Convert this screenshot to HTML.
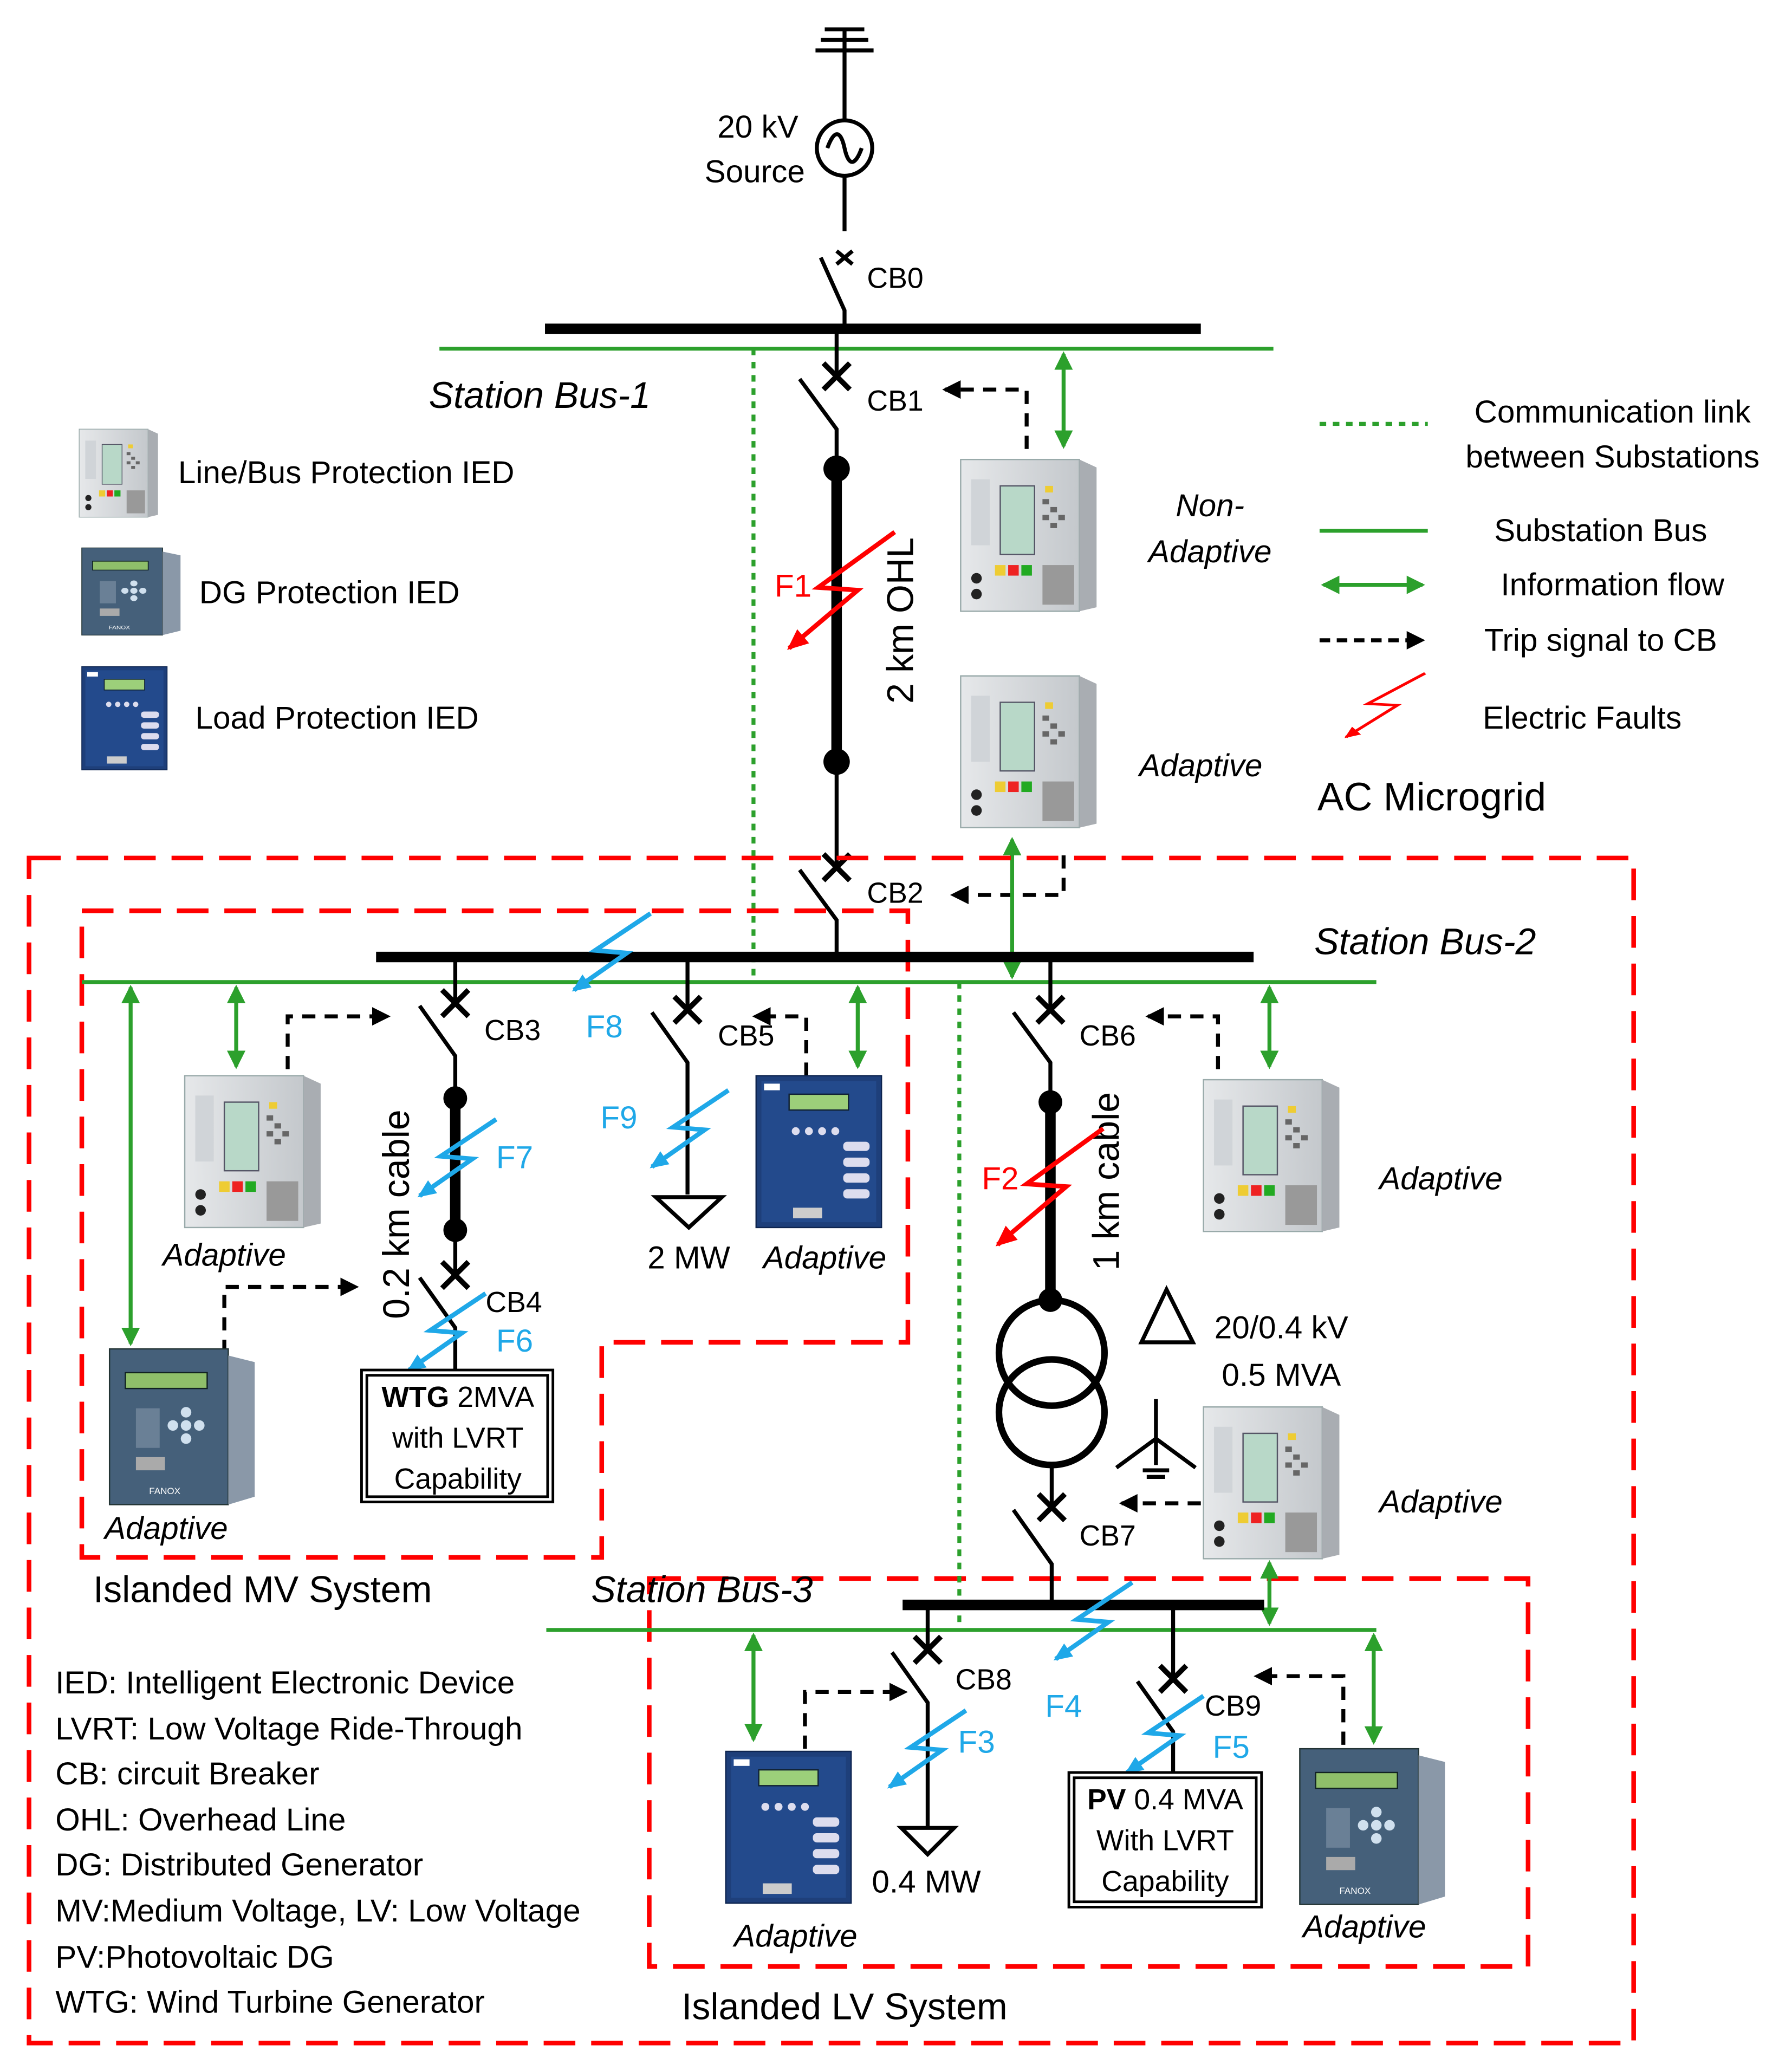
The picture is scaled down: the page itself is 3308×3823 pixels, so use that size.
<!DOCTYPE html>
<html><head><meta charset="utf-8"><style>
html,body{margin:0;padding:0;background:#fff}
svg{display:block}
text{font-family:"Liberation Sans",sans-serif;fill:#000}
</style></head><body>
<svg width="3308" height="3823" viewBox="0 0 1358 1569" xmlns="http://www.w3.org/2000/svg">
<defs>
<marker id="ag" markerWidth="14" markerHeight="14" refX="12" refY="7" orient="auto-start-reverse" markerUnits="userSpaceOnUse"><path d="M0,0 L14,7 L0,14 z" fill="#2ca02c"/></marker>
<marker id="ak" markerWidth="14" markerHeight="14" refX="12" refY="7" orient="auto" markerUnits="userSpaceOnUse"><path d="M0,0 L14,7 L0,14 z" fill="#000"/></marker>
<marker id="ar" markerWidth="18" markerHeight="18" refX="14" refY="9" orient="auto" markerUnits="userSpaceOnUse"><path d="M0,2 L16,9 L0,16 z" fill="#f00"/></marker>
<marker id="au" markerWidth="16" markerHeight="16" refX="12" refY="8" orient="auto" markerUnits="userSpaceOnUse"><path d="M0,2 L14,8 L0,14 z" fill="#1fa8e8"/></marker>
<linearGradient id="gs" x1="0" x2="1"><stop offset="0" stop-color="#e6e8ea"/><stop offset="1" stop-color="#c4c8cc"/></linearGradient>
<g id="sie">
<rect x="0" y="0" width="90" height="115" fill="url(#gs)" stroke="#9aa" stroke-width="1"/>
<path d="M90,0 L103,6 L103,112 L90,115z" fill="#a9adb2"/>
<rect x="30" y="20" width="26" height="52" fill="#b8d8c8" stroke="#556"/>
<rect x="8" y="15" width="14" height="50" fill="#d0d4d8"/>
<g fill="#666"><rect x="62" y="30" width="5" height="4"/><rect x="68" y="36" width="5" height="4"/><rect x="62" y="42" width="5" height="4"/><rect x="74" y="42" width="5" height="4"/><rect x="68" y="48" width="5" height="4"/></g>
<rect x="64" y="20" width="6" height="5" fill="#ec3"/>
<circle cx="12" cy="90" r="4" fill="#222"/><circle cx="12" cy="102" r="4" fill="#222"/>
<rect x="36" y="80" width="8" height="8" fill="#e22"/><rect x="46" y="80" width="8" height="8" fill="#2a2"/>
<rect x="26" y="80" width="8" height="8" fill="#ec3"/>
<g fill="#999"><rect x="62" y="80" width="24" height="30"/></g>
</g>
<g id="sel">
<rect x="0" y="0" width="95" height="115" fill="#1e3f7a" stroke="#0e2550"/>
<rect x="4" y="4" width="87" height="107" fill="#234a8c"/>
<rect x="25" y="14" width="45" height="12" fill="#9ccf7a" stroke="#123"/>
<rect x="6" y="6" width="12" height="5" fill="#fff"/>
<g fill="#dde"><rect x="66" y="50" width="20" height="7" rx="3"/><rect x="66" y="62" width="20" height="7" rx="3"/><rect x="66" y="74" width="20" height="7" rx="3"/><rect x="66" y="86" width="20" height="7" rx="3"/>
<circle cx="30" cy="42" r="3"/><circle cx="40" cy="42" r="3"/><circle cx="50" cy="42" r="3"/><circle cx="60" cy="42" r="3"/></g>
<rect x="28" y="100" width="22" height="8" fill="#ccc"/>
</g>
<g id="fan">
<rect x="0" y="0" width="90" height="118" fill="#45607a" stroke="#233"/>
<path d="M90,5 L110,10 L110,112 L90,118z" fill="#8a98a8"/>
<rect x="12" y="18" width="62" height="12" fill="#8fbf6a" stroke="#122"/>
<rect x="20" y="45" width="18" height="30" fill="#6a8096"/>
<g fill="#d0e0ee"><circle cx="58" cy="58" r="4"/><circle cx="48" cy="58" r="4"/><circle cx="68" cy="58" r="4"/><circle cx="58" cy="48" r="4"/><circle cx="58" cy="68" r="4"/></g>
<rect x="20" y="82" width="22" height="10" fill="#aaa"/>
<text x="30" y="110" font-size="7" style="fill:#fff">FANOX</text>
</g>
<g id="fr"><path d="M0,0 L-58,42 L-28,44 L-80,88" fill="none" stroke="#f00" stroke-width="3.5" marker-end="url(#ar)"/></g>
<g id="fb"><path d="M0,0 L-42,28 L-18,30 L-58,58" fill="none" stroke="#1fa8e8" stroke-width="3.5" marker-end="url(#au)"/></g>
<g id="xx"><path d="M-10,-10 L10,10 M10,-10 L-10,10" stroke="#000" stroke-width="4"/></g>
</defs>

<g stroke="#000" stroke-width="3" fill="none">
<path d="M625,22 L655,22 M622,30 L658,30 M618,38 L662,38"/>
<path d="M640,22 L640,90 M640,134 L640,175"/>
<circle cx="640" cy="112" r="21"/>
<path d="M627,112 C632,98 637,98 640,112 C643,126 648,126 653,112"/>
<path d="M622,195 L640,235 L640,249"/>
</g>
<path d="M634,190 L646,200 M646,190 L634,200" stroke="#000" stroke-width="3"/>
<text x="605" y="104" font-size="24" text-anchor="end">20 kV</text>
<text x="610" y="138" font-size="24" text-anchor="end">Source</text>
<text x="657" y="218" font-size="22">CB0</text>

<line x1="413" y1="249" x2="910" y2="249" stroke="#000" stroke-width="8"/>
<line x1="333" y1="264" x2="965" y2="264" stroke="#2ca02c" stroke-width="3"/>
<line x1="571" y1="264" x2="571" y2="740" stroke="#2ca02c" stroke-width="3" stroke-dasharray="5,5"/>
<text x="325" y="309" font-size="28" font-style="italic">Station Bus-1</text>

<g stroke="#000" stroke-width="3" fill="none"><path d="M634,249 L634,285 M606,287 L634,325 L634,355"/>
<path d="M634,577 L634,657 M606,659 L634,697 L634,725"/></g>
<use href="#xx" x="634" y="285"/>
<use href="#xx" x="634" y="657"/>
<line x1="634" y1="355" x2="634" y2="577" stroke="#000" stroke-width="8"/>
<circle cx="634" cy="355" r="10"/><circle cx="634" cy="577" r="10"/>
<text x="657" y="311" font-size="22">CB1</text>
<text x="657" y="684" font-size="22">CB2</text>
<use href="#fr" x="678" y="403"/>
<text x="587" y="452" font-size="24" style="fill:#f00">F1</text>
<text transform="translate(692,470) rotate(-90)" font-size="28" text-anchor="middle">2 km OHL</text>
<line x1="806" y1="268" x2="806" y2="338" stroke="#2ca02c" stroke-width="3" marker-start="url(#ag)" marker-end="url(#ag)"/>
<path d="M778,340 L778,295 L716,295" fill="none" stroke="#000" stroke-width="3" stroke-dasharray="10,7" marker-end="url(#ak)"/>
<use href="#sie" x="728" y="348"/>
<text x="917" y="391" font-size="24" font-style="italic" text-anchor="middle">Non-</text>
<text x="917" y="426" font-size="24" font-style="italic" text-anchor="middle">Adaptive</text>
<use href="#sie" x="728" y="512"/>
<text x="910" y="588" font-size="24" font-style="italic" text-anchor="middle">Adaptive</text>
<path d="M806,648 L806,678 L722,678" fill="none" stroke="#000" stroke-width="3" stroke-dasharray="10,7" marker-end="url(#ak)"/>
<line x1="767" y1="636" x2="767" y2="740" stroke="#2ca02c" stroke-width="3" marker-start="url(#ag)" marker-end="url(#ag)"/>

<use href="#sie" transform="translate(60,325) scale(0.58)"/>
<text x="135" y="366" font-size="24">Line/Bus Protection IED</text>
<use href="#fan" transform="translate(62,415) scale(0.68,0.56)"/>
<text x="151" y="457" font-size="24">DG Protection IED</text>
<use href="#sel" transform="translate(62,505) scale(0.68)"/>
<text x="148" y="552" font-size="24">Load Protection IED</text>

<line x1="1000" y1="321" x2="1082" y2="321" stroke="#2ca02c" stroke-width="3" stroke-dasharray="5,5"/>
<text x="1222" y="320" font-size="24" text-anchor="middle">Communication link</text>
<text x="1222" y="354" font-size="24" text-anchor="middle">between Substations</text>
<line x1="1000" y1="402" x2="1082" y2="402" stroke="#2ca02c" stroke-width="3"/>
<text x="1213" y="410" font-size="24" text-anchor="middle">Substation Bus</text>
<line x1="1003" y1="443" x2="1078" y2="443" stroke="#2ca02c" stroke-width="3" marker-start="url(#ag)" marker-end="url(#ag)"/>
<text x="1222" y="451" font-size="24" text-anchor="middle">Information flow</text>
<line x1="1000" y1="485" x2="1078" y2="485" stroke="#000" stroke-width="3" stroke-dasharray="8,5" marker-end="url(#ak)"/>
<text x="1213" y="493" font-size="24" text-anchor="middle">Trip signal to CB</text>
<use href="#fr" transform="translate(1080,510) scale(0.75,0.55)"/>
<text x="1199" y="552" font-size="24" text-anchor="middle">Electric Faults</text>
<text x="1085" y="614" font-size="30" text-anchor="middle">AC Microgrid</text>

<g fill="none" stroke="#f00" stroke-width="3.5" stroke-dasharray="24,12">
<path d="M22,650 L1238,650 L1238,1548 L22,1548 Z"/>
<path d="M62,690 L688,690 L688,1017 L456,1017 L456,1180 L62,1180 Z"/>
<path d="M492,1196 L1158,1196 L1158,1490 L492,1490 Z"/>
</g>

<line x1="285" y1="725" x2="950" y2="725" stroke="#000" stroke-width="8"/>
<line x1="62" y1="744" x2="1043" y2="744" stroke="#2ca02c" stroke-width="3"/>
<text x="1080" y="723" font-size="28" font-style="italic" text-anchor="middle">Station Bus-2</text>
<use href="#fb" x="493" y="692"/>
<text x="444" y="786" font-size="24" style="fill:#1fa8e8">F8</text>

<g stroke="#000" stroke-width="3" fill="none"><path d="M345,725 L345,760 M318,762 L345,800 L345,832"/>
<path d="M345,932 L345,966 M318,968 L345,1006 L345,1038"/></g>
<use href="#xx" x="345" y="760"/><use href="#xx" x="345" y="966"/>
<line x1="345" y1="832" x2="345" y2="932" stroke="#000" stroke-width="8"/>
<circle cx="345" cy="832" r="9"/><circle cx="345" cy="932" r="9"/>
<text x="367" y="788" font-size="22">CB3</text>
<text x="368" y="994" font-size="22">CB4</text>
<text transform="translate(310,920) rotate(-90)" font-size="28" text-anchor="middle">0.2 km cable</text>
<use href="#fb" x="376" y="848"/>
<text x="376" y="885" font-size="24" style="fill:#1fa8e8">F7</text>
<use href="#fb" x="368" y="980"/>
<text x="376" y="1024" font-size="24" style="fill:#1fa8e8">F6</text>
<path d="M218,810 L218,770 L294,770" fill="none" stroke="#000" stroke-width="3" stroke-dasharray="10,7" marker-end="url(#ak)"/>
<line x1="179" y1="748" x2="179" y2="808" stroke="#2ca02c" stroke-width="3" marker-start="url(#ag)" marker-end="url(#ag)"/>
<use href="#sie" x="140" y="815"/>
<text x="170" y="959" font-size="24" font-style="italic" text-anchor="middle">Adaptive</text>
<path d="M170,1025 L170,975 L270,975" fill="none" stroke="#000" stroke-width="3" stroke-dasharray="10,7" marker-end="url(#ak)"/>
<line x1="99" y1="748" x2="99" y2="1018" stroke="#2ca02c" stroke-width="3" marker-start="url(#ag)" marker-end="url(#ag)"/>
<use href="#fan" x="83" y="1022"/>
<text x="126" y="1166" font-size="24" font-style="italic" text-anchor="middle">Adaptive</text>
<rect x="274" y="1038" width="145" height="100" fill="#fff" stroke="#000" stroke-width="2"/>
<rect x="278" y="1042" width="137" height="92" fill="none" stroke="#000" stroke-width="2"/>
<text x="347" y="1066" font-size="22" text-anchor="middle"><tspan font-weight="bold">WTG</tspan> 2MVA</text>
<text x="347" y="1097" font-size="22" text-anchor="middle">with LVRT</text>
<text x="347" y="1128" font-size="22" text-anchor="middle">Capability</text>

<g stroke="#000" stroke-width="3" fill="none"><path d="M521,725 L521,765 M494,767 L521,805 L521,905 M497,907 L547,907 L522,930 Z"/></g>
<use href="#xx" x="521" y="765"/>
<text x="522" y="961" font-size="24" text-anchor="middle">2 MW</text>
<text x="544" y="792" font-size="22">CB5</text>
<path d="M611,815 L611,770 L572,770" fill="none" stroke="#000" stroke-width="3" stroke-dasharray="10,7" marker-end="url(#ak)"/>
<line x1="650" y1="748" x2="650" y2="808" stroke="#2ca02c" stroke-width="3" marker-start="url(#ag)" marker-end="url(#ag)"/>
<use href="#sel" x="573" y="815"/>
<text x="625" y="961" font-size="24" font-style="italic" text-anchor="middle">Adaptive</text>
<use href="#fb" x="552" y="826"/>
<text x="455" y="855" font-size="24" style="fill:#1fa8e8">F9</text>

<g stroke="#000" stroke-width="3" fill="none"><path d="M796,725 L796,765 M768,767 L796,805 L796,835"/>
<circle cx="797" cy="1025" r="40" stroke-width="5"/><circle cx="797" cy="1070" r="40" stroke-width="5"/>
<path d="M797,1110 L797,1142 M768,1144 L797,1185 L797,1216"/>
<path d="M865,1017 L884,977 L904,1017 Z"/>
<path d="M876,1060 L876,1110 M846,1112 L876,1090 L906,1112 M866,1114 L886,1114 M869,1119 L883,1119"/></g>
<use href="#xx" x="796" y="765"/><use href="#xx" x="797" y="1142"/>
<line x1="796" y1="835" x2="796" y2="985" stroke="#000" stroke-width="8"/>
<circle cx="796" cy="835" r="9"/><circle cx="796" cy="985" r="9"/>
<text x="818" y="792" font-size="22">CB6</text>
<text x="818" y="1171" font-size="22">CB7</text>
<text transform="translate(848,895) rotate(-90)" font-size="28" text-anchor="middle">1 km cable</text>
<use href="#fr" x="836" y="855"/>
<text x="744" y="901" font-size="24" style="fill:#f00">F2</text>
<text x="971" y="1014" font-size="24" text-anchor="middle">20/0.4 kV</text>
<text x="971" y="1050" font-size="24" text-anchor="middle">0.5 MVA</text>
<path d="M923,810 L923,770 L870,770" fill="none" stroke="#000" stroke-width="3" stroke-dasharray="10,7" marker-end="url(#ak)"/>
<line x1="962" y1="748" x2="962" y2="808" stroke="#2ca02c" stroke-width="3" marker-start="url(#ag)" marker-end="url(#ag)"/>
<use href="#sie" x="912" y="818"/>
<text x="1092" y="901" font-size="24" font-style="italic" text-anchor="middle">Adaptive</text>
<use href="#sie" x="912" y="1066"/>
<text x="1092" y="1146" font-size="24" font-style="italic" text-anchor="middle">Adaptive</text>
<path d="M910,1139 L850,1139" fill="none" stroke="#000" stroke-width="3" stroke-dasharray="10,7" marker-end="url(#ak)"/>
<line x1="962" y1="1184" x2="962" y2="1230" stroke="#2ca02c" stroke-width="3" marker-start="url(#ag)" marker-end="url(#ag)"/>
<line x1="727" y1="744" x2="727" y2="1232" stroke="#2ca02c" stroke-width="3" stroke-dasharray="5,5"/>

<line x1="684" y1="1216" x2="958" y2="1216" stroke="#000" stroke-width="8"/>
<line x1="414" y1="1235" x2="1043" y2="1235" stroke="#2ca02c" stroke-width="3"/>
<text x="532" y="1214" font-size="28" font-style="italic" text-anchor="middle">Station Bus-3</text>
<text x="199" y="1214" font-size="28" text-anchor="middle">Islanded MV System</text>
<use href="#fb" x="858" y="1199"/>
<text x="792" y="1301" font-size="24" style="fill:#1fa8e8">F4</text>

<g stroke="#000" stroke-width="3" fill="none"><path d="M703,1216 L703,1250 M676,1252 L703,1290 L703,1385 M683,1385 L723,1385 L703,1405 Z"/></g>
<use href="#xx" x="703" y="1250"/>
<text x="702" y="1434" font-size="24" text-anchor="middle">0.4 MW</text>
<text x="724" y="1280" font-size="22">CB8</text>
<use href="#fb" x="732" y="1296"/>
<text x="726" y="1328" font-size="24" style="fill:#1fa8e8">F3</text>
<path d="M610,1325 L610,1282 L686,1282" fill="none" stroke="#000" stroke-width="3" stroke-dasharray="10,7" marker-end="url(#ak)"/>
<line x1="571" y1="1239" x2="571" y2="1318" stroke="#2ca02c" stroke-width="3" marker-start="url(#ag)" marker-end="url(#ag)"/>
<use href="#sel" x="550" y="1327"/>
<text x="603" y="1475" font-size="24" font-style="italic" text-anchor="middle">Adaptive</text>

<g stroke="#000" stroke-width="3" fill="none"><path d="M889,1216 L889,1272 M862,1274 L889,1312 L889,1343"/></g>
<use href="#xx" x="889" y="1272"/>
<text x="913" y="1300" font-size="22">CB9</text>
<use href="#fb" x="912" y="1285"/>
<text x="919" y="1332" font-size="24" style="fill:#1fa8e8">F5</text>
<rect x="810" y="1343" width="146" height="102" fill="#fff" stroke="#000" stroke-width="2"/>
<rect x="814" y="1347" width="138" height="94" fill="none" stroke="#000" stroke-width="2"/>
<text x="883" y="1371" font-size="22" text-anchor="middle"><tspan font-weight="bold">PV</tspan> 0.4 MVA</text>
<text x="883" y="1402" font-size="22" text-anchor="middle">With LVRT</text>
<text x="883" y="1433" font-size="22" text-anchor="middle">Capability</text>
<path d="M1018,1322 L1018,1270 L952,1270" fill="none" stroke="#000" stroke-width="3" stroke-dasharray="10,7" marker-end="url(#ak)"/>
<line x1="1041" y1="1239" x2="1041" y2="1320" stroke="#2ca02c" stroke-width="3" marker-start="url(#ag)" marker-end="url(#ag)"/>
<use href="#fan" x="985" y="1325"/>
<text x="1034" y="1468" font-size="24" font-style="italic" text-anchor="middle">Adaptive</text>
<text x="640" y="1530" font-size="28" text-anchor="middle">Islanded LV System</text>

<g font-size="24">
<text x="42" y="1283">IED: Intelligent Electronic Device</text>
<text x="42" y="1318">LVRT: Low Voltage Ride-Through</text>
<text x="42" y="1352">CB: circuit Breaker</text>
<text x="42" y="1387">OHL: Overhead Line</text>
<text x="42" y="1421">DG: Distributed Generator</text>
<text x="42" y="1456">MV:Medium Voltage, LV: Low Voltage</text>
<text x="42" y="1491">PV:Photovoltaic DG</text>
<text x="42" y="1525">WTG: Wind Turbine Generator</text>
</g>
</svg>
</body></html>
